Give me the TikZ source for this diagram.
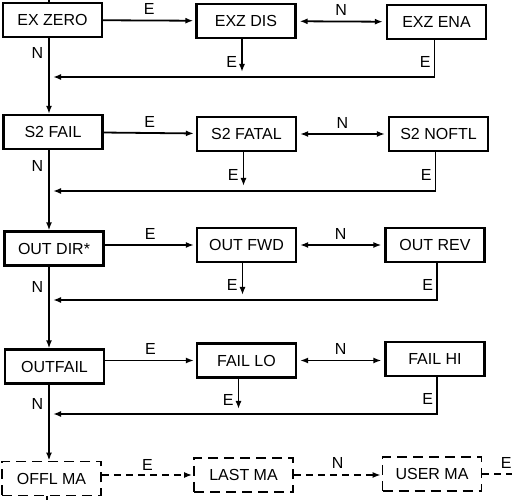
\documentclass[tikz,border=0pt]{standalone}
\usepackage{fontspec}
\setmainfont{Liberation Sans}
\usetikzlibrary{arrows.meta}

\begin{document}
\begin{tikzpicture}[
  x=1pt, y=-1pt,
  font=\fontsize{16}{19}\selectfont,
  scr/.style={draw, line width=2.3pt, minimum width=99pt, minimum height=34pt, inner sep=0pt},
  scrd/.style={scr, line width=1.9pt, dash pattern=on 10pt off 6pt},
  arr/.style={-{Latex[length=8pt,width=6pt]}, line width=1.8pt},
  barr/.style={{Latex[length=8pt,width=6pt]}-{Latex[length=8pt,width=6pt]}, line width=1.8pt},
  darr/.style={arr, line width=1.3pt, dash pattern=on 7pt off 5pt},
  lbl/.style={inner sep=0pt}
]
\useasboundingbox (0,0) rectangle (512,502);
% column of the main line and the join points
\coordinate (cx) at (49,0);
\coordinate (j1) at (49,77);
\coordinate (j2) at (49,191);
\coordinate (j3) at (49,300);
\coordinate (j4) at (49,414);
% row 1
\node[scr] (zero) at (52.5,20) {EX ZERO};
\node[scr] (exdis) at (246,21) {EXZ DIS};
\node[scr] (exena) at (436.5,22) {EXZ ENA};
% row 2
\node[scr] (sfail) at (53,132) {S2 FAIL};
\node[scr] (sfatal) at (246.5,134) {S2 FATAL};
\node[scr] (snoftl) at (438.5,134) {S2 NOFTL};
% row 3
\node[scr] (odir) at (54,248.5) {OUT DIR*};
\node[scr] (ofwd) at (246.5,245) {OUT FWD};
\node[scr] (orev) at (435,245) {OUT REV};
% row 4
\node[scr] (ofail) at (54.5,366.5) {OUTFAIL};
\node[scr] (flo) at (246.5,360.5) {FAIL LO};
\node[scr] (fhi) at (435,359) {FAIL HI};
% row 5
\node[scrd] (offl) at (51.5,478.5) {OFFL MA};
\node[scrd] (last) at (243.5,475) {LAST MA};
\node[scrd] (user) at (432,474) {USER MA};
\coordinate (tstart) at (49,0);
\coordinate (rend) at (512,474);
\coordinate (bend) at (47,502);

\draw[line width=1.8pt] (tstart) -- (zero.north -| cx);
% row 1 connectors
\draw[arr, shorten >=2pt] (zero) -- (exdis) node[lbl, midway, above=5pt] {E};
\draw[barr, shorten <=3pt, shorten >=3pt] (exdis) -- (exena) node[lbl, midway, above=5pt] {N};
\draw[arr, shorten >=5pt] ([xshift=-4pt]exdis.south) -- ([xshift=-4pt]exdis.south |- j1) node[lbl, pos=0.6, left=4pt] {E};
\draw[arr, shorten >=4pt] ([xshift=-2pt]exena.south) |- (j1) node[lbl, pos=0.3, left=3pt] {E};
\draw[arr] (zero.south -| cx) -- (sfail.north -| cx) node[lbl, pos=0.2, left=5pt] {N};
% row 2 connectors
\draw[arr, shorten >=2pt] (sfail) -- (sfatal) node[lbl, midway, above=5pt] {E};
\draw[barr, shorten <=3pt, shorten >=3pt] (sfatal) -- (snoftl) node[lbl, midway, above=5pt] {N};
\draw[arr, shorten >=5pt] ([xshift=-3pt]sfatal.south) -- ([xshift=-3pt]sfatal.south |- j2) node[lbl, pos=0.6, left=4pt] {E};
\draw[arr, shorten >=4pt] ([xshift=-3pt]snoftl.south) |- (j2) node[lbl, pos=0.3, left=3pt] {E};
\draw[arr] (sfail.south -| cx) -- (odir.north -| cx) node[lbl, pos=0.2, left=5pt] {N};
% row 3 connectors
\draw[arr, shorten >=2pt] (odir.east |- ofwd) -- (ofwd) node[lbl, midway, above=5pt] {E};
\draw[barr, shorten <=3pt, shorten >=3pt] (ofwd) -- (orev) node[lbl, midway, above=5pt] {N};
\draw[arr, shorten >=5pt] ([xshift=-4pt]ofwd.south) -- ([xshift=-4pt]ofwd.south |- j3) node[lbl, pos=0.6, left=4pt] {E};
\draw[arr, shorten >=4pt] ([xshift=2pt]orev.south) |- (j3) node[lbl, pos=0.3, left=3pt] {E};
\draw[arr] (odir.south -| cx) -- (ofail.north -| cx) node[lbl, pos=0.25, left=5pt] {N};
% row 4 connectors
\draw[arr, shorten >=2pt] (ofail.east |- flo) -- (flo) node[lbl, midway, above=5pt] {E};
\draw[barr, shorten <=3pt, shorten >=3pt] (flo) -- (fhi.west |- flo) node[lbl, midway, above=5pt] {N};
\draw[arr, shorten >=5pt] ([xshift=-8pt]flo.south) -- ([xshift=-8pt]flo.south |- j4) node[lbl, pos=0.6, left=4pt] {E};
\draw[arr, shorten >=4pt] ([xshift=2pt]fhi.south) |- (j4) node[lbl, pos=0.3, left=3pt] {E};
\draw[arr] (ofail.south -| cx) -- (offl.north -| cx) node[lbl, pos=0.25, left=5pt] {N};
% row 5 connectors
\draw[darr, shorten >=1pt] (offl.east |- last) -- (last) node[lbl, midway, above=4pt] {E};
\draw[darr, shorten >=1pt] (last) -- (user.west |- last) node[lbl, midway, above=6pt] {N};
\draw[line width=1.3pt, dash pattern=on 7pt off 5pt] (user.east) -- (rend) node[lbl, pos=0.8, above=5pt] {E};
\draw[line width=1.3pt, dash pattern=on 4pt off 4pt] (offl.south -| bend) -- (bend);
\end{tikzpicture}
\end{document}
